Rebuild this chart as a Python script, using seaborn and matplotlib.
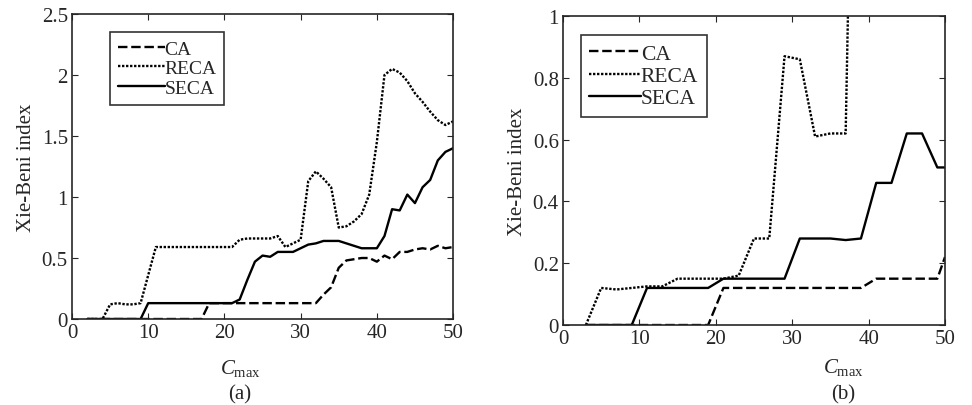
import pandas as pd
import numpy as np
import matplotlib
matplotlib.use('Agg')
import matplotlib.pyplot as plt
import seaborn as sns
from matplotlib.ticker import FuncFormatter

# data, panel (a)
c_a = list(range(2, 51))
ca_a = [0, 0, 0, 0, 0, 0, 0, 0, 0, 0, 0, 0, 0, 0, 0, 0,
        0.13, 0.13, 0.13, 0.13, 0.13, 0.13, 0.13, 0.13, 0.13, 0.13, 0.13, 0.13, 0.13, 0.13, 0.13,
        0.2, 0.26, 0.42, 0.48, 0.49, 0.5, 0.5, 0.47, 0.52, 0.49, 0.55, 0.55, 0.57, 0.58, 0.57, 0.6, 0.58, 0.59]
reca_a = [0, 0, 0, 0.12, 0.13, 0.12, 0.12, 0.13, 0.36,
          0.59, 0.59, 0.59, 0.59, 0.59, 0.59, 0.59, 0.59, 0.59, 0.59, 0.59,
          0.65, 0.66, 0.66, 0.66, 0.66, 0.68, 0.59, 0.62, 0.65, 1.13, 1.21, 1.15, 1.08,
          0.75, 0.76, 0.8, 0.86, 1.02, 1.45, 2.0, 2.05, 2.02, 1.95, 1.85, 1.78, 1.7, 1.63, 1.59, 1.62]
seca_a = [0, 0, 0, 0, 0, 0, 0, 0,
          0.13, 0.13, 0.13, 0.13, 0.13, 0.13, 0.13, 0.13, 0.13, 0.13, 0.13, 0.13,
          0.16, 0.32, 0.47, 0.52, 0.51, 0.55, 0.55, 0.55, 0.58, 0.61, 0.62, 0.64, 0.64, 0.64,
          0.62, 0.6, 0.58, 0.58, 0.58, 0.68, 0.9, 0.89, 1.02, 0.95, 1.08, 1.14, 1.3, 1.37, 1.4]

# data, panel (b)
c_b = [3, 5, 7, 9, 11, 13, 15, 17, 19, 21, 23, 25, 27, 29, 31, 33, 35, 37, 39, 41, 43, 45, 47, 49, 50]
ca_b = [0, 0, 0, 0, 0, 0, 0, 0, 0,
        0.12, 0.12, 0.12, 0.12, 0.12, 0.12, 0.12, 0.12, 0.12, 0.12,
        0.15, 0.15, 0.15, 0.15, 0.15, 0.22]
reca_b = [0, 0.12, 0.115, 0.12, 0.125, 0.125, 0.15, 0.15, 0.15, 0.15, 0.16, 0.28, 0.28,
          0.87, 0.86, 0.61, 0.62, 0.62, 3.2, 3.5, 3.4, 3.6, 3.3, 3.5, 3.4]
seca_b = [0, 0, 0, 0, 0.12, 0.12, 0.12, 0.12, 0.12, 0.15, 0.15, 0.15, 0.15, 0.15,
          0.28, 0.28, 0.28, 0.275, 0.28, 0.46, 0.46, 0.62, 0.62, 0.51, 0.51]

methods = ['CA', 'RECA', 'SECA']


def long_df(x, series):
    rows = []
    for name, vals in zip(methods, series):
        rows.append(pd.DataFrame({'C': x, 'v': vals, 'method': name}))
    return pd.concat(rows, ignore_index=True)


df_a = long_df(c_a, [ca_a, reca_a, seca_a])
df_b = long_df(c_b, [ca_b, reca_b, seca_b])

sns.set_style('ticks')
plt.rcParams['font.family'] = ['Liberation Serif', 'DejaVu Serif']
plt.rcParams['mathtext.fontset'] = 'custom'
plt.rcParams['mathtext.rm'] = 'Liberation Serif'
plt.rcParams['mathtext.it'] = 'Liberation Serif:italic'
plt.rcParams['axes.linewidth'] = 1.2

W, H = 972, 406
fig = plt.figure(figsize=(W / 100, H / 100), dpi=100)
ax1 = fig.add_axes([0.0741, 0.2118, 0.392, 0.7512])
ax2 = fig.add_axes([0.5792, 0.197, 0.393, 0.761])

dashes = {'CA': (4, 1.6), 'RECA': (1, 0.7), 'SECA': ''}

# axes, ylim, yticks, legend anchor, legend size, label x (px), Cmax y, tag y, tag
panels = [
    (ax1, df_a, 2.5, [0, 0.5, 1, 1.5, 2, 2.5], (0.1, 0.94), 14, 240, 369, 395, '(a)'),
    (ax2, df_b, 1.0, [0, 0.2, 0.4, 0.6, 0.8, 1.0], (0.046, 0.938), 15.5, 843, 368, 395, '(b)'),
]

for ax, df, ymax, yt, legpos, legfs, lx, ly, ty, tag in panels:
    sns.lineplot(data=df, x='C', y='v', style='method', dashes=dashes,
                 color='k', linewidth=1.7, ax=ax)
    ax.set_xlim(0, 50)
    ax.set_ylim(0, ymax)
    ax.set_xticks([0, 10, 20, 30, 40, 50])
    ax.set_yticks(yt)
    ax.yaxis.set_major_formatter(FuncFormatter(lambda v, p: '%g' % v))
    ax.tick_params(direction='in', top=True, right=True, length=4,
                   labelsize=15, pad=3)
    ax.set_xlabel('')
    ax.set_ylabel('Xie-Beni index', fontsize=15)
    for s in ax.spines.values():
        s.set_visible(True)
    h, l = ax.get_legend_handles_labels()
    leg = ax.legend(h, l, loc='upper left', bbox_to_anchor=legpos,
                    fontsize=legfs, frameon=True, fancybox=False,
                    edgecolor='k', handlelength=2.4, handletextpad=0.0,
                    borderpad=0.4, labelspacing=0.1, borderaxespad=0)
    leg.get_frame().set_linewidth(1.2)
    fig.text(lx / W, 1 - ly / H, r'$C_{\mathrm{max}}$', ha='center', va='center', fontsize=15)
    fig.text(lx / W, 1 - ty / H, tag, ha='center', va='center', fontsize=15)

fig.savefig('out.png', dpi=100)
